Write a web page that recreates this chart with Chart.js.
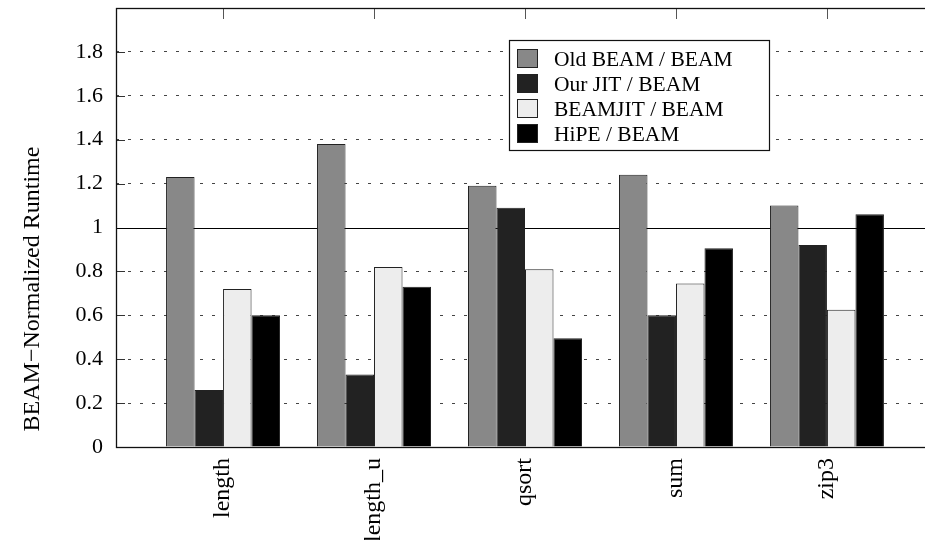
<!DOCTYPE html>
<html>
<head>
<meta charset="utf-8">
<script src="https://cdn.jsdelivr.net/npm/chart.js@4/dist/chart.umd.min.js"></script>
<style>
  html, body { margin: 0; padding: 0; background: #fff; overflow: hidden; }
  #wrap { width: 940px; height: 540px; }
</style>
</head>
<body>
<div id="wrap"><canvas id="chart" width="940" height="540"></canvas></div>
<script>
const categories = ['length', 'length_u', 'qsort', 'sum', 'zip3']
const seriesNames = ['Old BEAM / BEAM', 'Our JIT / BEAM', 'BEAMJIT / BEAM', 'HiPE / BEAM']
const oldBeam = [1.23, 1.38, 1.19, 1.24, 1.10]
const ourJit = [0.26, 0.33, 1.09, 0.60, 0.92]
const beamJit = [0.72, 0.82, 0.81, 0.745, 0.625]
const hipe = [0.60, 0.73, 0.495, 0.905, 1.06]
const yTicks = [0, 0.2, 0.4, 0.6, 0.8, 1, 1.2, 1.4, 1.6, 1.8]

const fills = ['#888888', '#222222', '#ededed', '#000000']
const serif = '"Liberation Serif", "Times New Roman", Times, serif'

Chart.defaults.font.family = serif
Chart.defaults.color = '#000'

const toPoints = values => values.map((v, i) => ({ x: i, y: v }))

const makeDataset = (values, i) => ({
  label: seriesNames[i],
  data: toPoints(values),
  backgroundColor: fills[i],
  borderColor: '#222',
  borderWidth: 1,
  borderSkipped: 'bottom',
  barPercentage: 1,
  categoryPercentage: 0.755,
})

// frame, inward ticks and the solid line at 1
const framePlugin = {
  id: 'frame',
  beforeDatasetsDraw: (chart) => {
    const { ctx, chartArea: a, scales: { x, y } } = chart
    ctx.save()
    ctx.strokeStyle = '#333'
    ctx.lineWidth = 1
    yTicks.slice(1).forEach(v => {
      const py = Math.round(y.getPixelForValue(v)) + 0.5
      ctx.beginPath()
      ctx.moveTo(a.left, py)
      ctx.lineTo(a.left + 9, py)
      ctx.stroke()
    })
    ctx.strokeStyle = '#555'
    categories.forEach((c, i) => {
      const px = Math.round(x.getPixelForValue(i)) + 0.5
      ctx.beginPath()
      ctx.moveTo(px, a.top)
      ctx.lineTo(px, a.top + 11)
      ctx.stroke()
    })
    const p1 = Math.round(y.getPixelForValue(1)) + 0.5
    ctx.strokeStyle = '#000'
    ctx.beginPath()
    ctx.moveTo(a.left, p1)
    ctx.lineTo(a.right, p1)
    ctx.stroke()
    ctx.restore()
  },
  afterDatasetsDraw: (chart) => {
    const { ctx, chartArea: a } = chart
    ctx.save()
    ctx.strokeStyle = '#111'
    ctx.lineWidth = 1.3
    ctx.strokeRect(Math.round(a.left) + 0.5, Math.round(a.top) + 0.5,
      Math.round(a.right - a.left), Math.round(a.bottom - a.top))
    ctx.restore()
  },
  afterDraw: (chart) => {
    const { ctx } = chart
    ctx.save()
    // y axis title
    ctx.font = '24px ' + serif
    ctx.fillStyle = '#000'
    ctx.textAlign = 'center'
    ctx.textBaseline = 'middle'
    ctx.translate(33, 289)
    ctx.rotate(-Math.PI / 2)
    ctx.fillText('BEAM\u2212Normalized Runtime', 0, 0)
    ctx.restore()

    // legend box
    ctx.save()
    const lx = 509.5, ly = 40.5, lw = 260, lh = 110
    ctx.fillStyle = '#fff'
    ctx.fillRect(lx, ly, lw, lh)
    ctx.strokeStyle = '#111'
    ctx.lineWidth = 1.2
    ctx.strokeRect(lx, ly, lw, lh)
    ctx.font = '21.5px ' + serif
    ctx.textAlign = 'left'
    ctx.textBaseline = 'alphabetic'
    chart.data.datasets.forEach((ds, i) => {
      const top = 49 + i * 25
      ctx.fillStyle = ds.backgroundColor
      ctx.fillRect(517.5, top + 0.5, 20, 18)
      ctx.strokeStyle = '#222'
      ctx.lineWidth = 1
      ctx.strokeRect(517.5, top + 0.5, 20, 18)
      ctx.fillStyle = '#000'
      ctx.fillText(ds.label, 554, top + 17)
    })
    ctx.restore()
  }
}

new Chart(document.getElementById('chart'), {
  type: 'bar',
  data: {
    datasets: [oldBeam, ourJit, beamJit, hipe].map(makeDataset),
  },
  options: {
    responsive: false,
    animation: false,
    events: [],
    layout: { padding: { top: 8, right: 6, left: 0, bottom: 0 } },
    plugins: {
      legend: { display: false },
      tooltip: { enabled: false },
    },
    scales: {
      x: {
        type: 'linear',
        offset: false,
        min: -0.709,
        max: 4.709,
        afterBuildTicks: (scale) => {
          scale.ticks = categories.map((c, i) => ({ value: i }))
        },
        afterFit: (scale) => {
          scale.height = 93
          scale.paddingLeft = 0
          scale.paddingRight = 0
          scale.paddingTop = 0
          scale.paddingBottom = 0
        },
        grid: { display: false, drawTicks: false },
        border: { display: false },
        ticks: {
          autoSkip: false,
          minRotation: 90,
          maxRotation: 90,
          padding: 11,
          font: { size: 24 },
          color: '#000',
          callback: (v) => categories[v],
        },
      },
      y: {
        min: 0,
        max: 2,
        afterBuildTicks: (scale) => {
          scale.ticks = yTicks.concat([2]).map(v => ({ value: v }))
        },
        afterFit: (scale) => {
          scale.width = 116
          scale.paddingTop = 0
          scale.paddingBottom = 0
        },
        grid: {
          drawTicks: false,
          color: (c) => {
            const v = c.tick ? c.tick.value : 0
            return (v === 0 || v === 1 || v === 2) ? 'rgba(0,0,0,0)' : '#444'
          },
          lineWidth: 1,
        },
        border: { display: false, dash: [3, 9] },
        ticks: {
          padding: 13,
          font: { size: 22 },
          color: '#000',
          callback: (v) => v >= 1.99 ? null : String(Math.round(v * 10) / 10),
        },
      },
    },
  },
  plugins: [framePlugin],
})
</script>
</body>
</html>
